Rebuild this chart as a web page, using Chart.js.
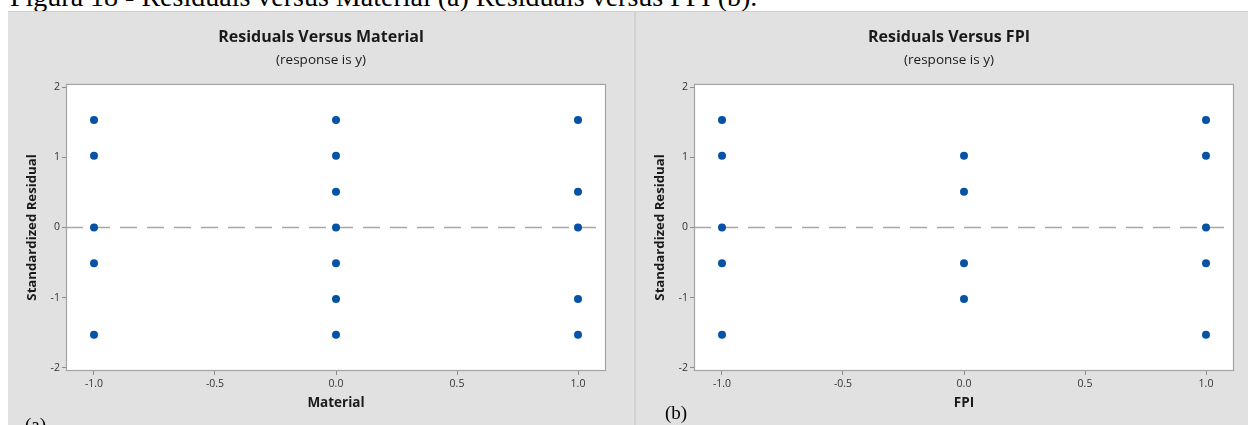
<!DOCTYPE html>
<html><head><meta charset="utf-8">
<script src="https://cdn.jsdelivr.net/npm/chart.js@4/dist/chart.umd.min.js"></script>
<style>
html,body{margin:0;padding:0;background:#fff;width:1248px;height:425px;overflow:hidden;position:relative;}
#cap{position:absolute;left:10px;top:-17px;line-height:28px;font-family:"Liberation Serif","Times New Roman",serif;font-size:28px;color:#000;white-space:nowrap;}
.panel{position:absolute;top:11px;height:414px;width:626px;background:#e1e1e1;}
.panel canvas{position:absolute;left:0;top:0;}
#p1{left:8px;}
#p2{left:636px;}
#topline{position:absolute;left:8px;top:11px;width:1240px;height:1px;background:#cfcfcf;}
#divider{position:absolute;left:634px;top:11px;width:2px;height:414px;background:#d2d2d2;}
.lab{position:absolute;font-family:"Liberation Serif","Times New Roman",serif;font-size:19px;color:#000;}
</style></head>
<body>
<div id="cap">Figura 18 - Residuals versus Material (a) Residuals versus FPI (b).</div>
<div class="panel" id="p1"><canvas id="c1" width="626" height="414"></canvas></div>
<div class="panel" id="p2"><canvas id="c2" width="626" height="414"></canvas></div>
<div id="topline"></div>
<div id="divider"></div>
<div class="lab" style="left:25px;top:414px;">(a)</div>
<div class="lab" style="left:665px;top:402px;">(b)</div>
<script>
// ---- data ----
const materialX     = [-1, -1, -1, -1, -1,  0, 0, 0, 0, 0, 0, 0,  1, 1, 1, 1, 1];
const materialResid = [1.53, 1.02, 0, -0.51, -1.53,  1.53, 1.02, 0.51, 0, -0.51, -1.02, -1.53,  1.53, 0.51, 0, -1.02, -1.53];
const fpiX          = [-1, -1, -1, -1, -1,  0, 0, 0, 0,  1, 1, 1, 1, 1];
const fpiResid      = [1.53, 1.02, 0, -0.51, -1.53,  1.02, 0.51, -0.51, -1.02,  1.53, 1.02, 0, -0.51, -1.53];
const xTickValues   = [-1, -0.5, 0, 0.5, 1];
const yTickValues   = [-2, -1, 0, 1, 2];
const referenceY    = 0;
const xLimits       = [-1.1157, 1.1157];
const yLimits       = [-2.045, 2.045];
const subtitleText  = '(response is y)';
const yAxisTitle    = 'Standardized Residual';

const FONT = '"Open Sans", "Noto Sans", sans-serif';
const POINT_COLOR = '#0653a5';
const BOX_COLOR = '#a3a3a3';

const panelPlugin = {
  id: 'panelPlugin',
  beforeDraw(chart) {
    const {ctx, chartArea: a} = chart;
    ctx.save();
    ctx.fillStyle = '#ffffff';
    ctx.fillRect(a.left, a.top, a.right - a.left, a.bottom - a.top);
    ctx.restore();
  },
  beforeDatasetsDraw(chart) {
    const {ctx, chartArea: a, scales} = chart;
    const y0 = scales.y.getPixelForValue(referenceY);
    ctx.save();
    ctx.strokeStyle = '#a8a8a8';
    ctx.lineWidth = 1.5;
    ctx.setLineDash([17, 10]);
    ctx.beginPath();
    ctx.moveTo(a.left, y0);
    ctx.lineTo(a.right, y0);
    ctx.stroke();
    ctx.setLineDash([]);
    ctx.strokeStyle = BOX_COLOR;
    ctx.lineWidth = 1.2;
    ctx.strokeRect(a.left + 0.5, a.top + 0.5, a.right - a.left - 1, a.bottom - a.top - 1);
    ctx.restore();
  }
};

function makeChart(id, titleText, xTitle, xs, ys) {
  const pts = xs.map((x, i) => ({x: x, y: ys[i]}));
  return new Chart(document.getElementById(id), {
    type: 'scatter',
    data: { datasets: [{ data: pts, backgroundColor: POINT_COLOR, borderWidth: 0, pointRadius: 4, pointHoverRadius: 4 }] },
    options: {
      responsive: false, animation: false, devicePixelRatio: 1,
      layout: { padding: { left: 0, right: 0, top: 0, bottom: 14 } },
      plugins: {
        legend: { display: false }, tooltip: { enabled: false },
        title: { display: true, text: titleText, color: '#1a1a1a',
                 font: { family: FONT, size: 16, weight: 'bold', lineHeight: 1.2 },
                 padding: { top: 17, bottom: 0 } },
        subtitle: { display: true, text: subtitleText, color: '#1a1a1a',
                 font: { family: FONT, size: 13.5, weight: 'normal', lineHeight: 1.2 },
                 padding: { top: 4.5, bottom: 16 } }
      },
      scales: {
        x: {
          type: 'linear', min: xLimits[0], max: xLimits[1],
          afterBuildTicks: s => { s.ticks = xTickValues.map(v => ({value: v})); },
          afterFit: s => { s.height = 40; },
          ticks: { callback: v => Number(v).toFixed(1), color: '#333', padding: 3, maxRotation: 0, autoSkip: false,
                   font: { family: FONT, size: 10.5 } },
          grid: { drawOnChartArea: false, drawTicks: true, tickLength: 4, color: '#8c8c8c' },
          border: { display: false },
          title: { display: true, text: xTitle, color: '#1a1a1a', padding: { top: 0, bottom: 0 },
                   font: { family: FONT, size: 13.5, weight: 'bold', lineHeight: 1.2 } }
        },
        y: {
          type: 'linear', min: yLimits[0], max: yLimits[1],
          afterBuildTicks: s => { s.ticks = yTickValues.map(v => ({value: v})); },
          afterFit: s => { s.width = 58; },
          ticks: { callback: v => String(v), color: '#333', padding: 2, autoSkip: false,
                   font: { family: FONT, size: 10.5 } },
          grid: { drawOnChartArea: false, drawTicks: true, tickLength: 4, color: '#8c8c8c' },
          border: { display: false },
          title: { display: true, text: yAxisTitle, color: '#1a1a1a', padding: { top: 16.5, bottom: 0 },
                   font: { family: FONT, size: 13.2, weight: 'bold', lineHeight: 1.2 } }
        },
        yr: {
          type: 'linear', position: 'right', display: true,
          afterFit: s => { s.width = 28; },
          ticks: { display: false }, grid: { display: false }, border: { display: false }, title: { display: false }
        }
      }
    },
    plugins: [panelPlugin]
  });
}

makeChart('c1', 'Residuals Versus Material', 'Material', materialX, materialResid);
makeChart('c2', 'Residuals Versus FPI', 'FPI', fpiX, fpiResid);
</script>
</body></html>
